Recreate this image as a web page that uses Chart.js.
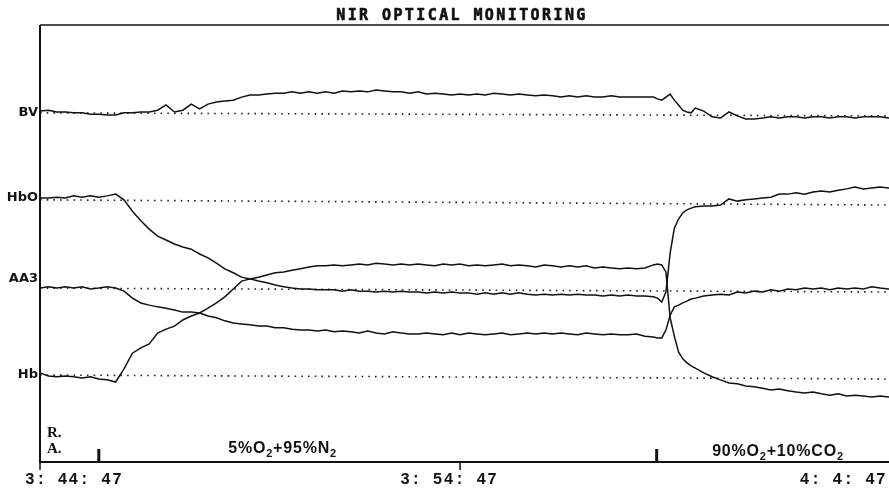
<!DOCTYPE html>
<html>
<head>
<meta charset="utf-8">
<title>NIR optical monitoring</title>
<script src="https://cdn.jsdelivr.net/npm/chart.js@4.4.1/dist/chart.umd.min.js"></script>
<style>
  html, body { margin: 0; padding: 0; background: #fff; }
  #wrap { width: 889px; height: 493px; position: relative; }
</style>
</head>
<body>
<div id="wrap"><canvas id="chart"></canvas></div>
<script>
// sample times, minutes after 3:44:47
const minutes = [
  0, 0.2, 0.4, 0.6, 0.8, 1, 1.2, 1.4, 1.6, 1.8,
  2, 2.2, 2.4, 2.6, 2.8, 3, 3.2, 3.4, 3.6, 3.8,
  4, 4.2, 4.4, 4.6, 4.8, 5, 5.2, 5.4, 5.6, 5.8,
  6, 6.2, 6.4, 6.6, 6.8, 7, 7.2, 7.4, 7.6, 7.8,
  8, 8.2, 8.4, 8.6, 8.8, 9, 9.2, 9.4, 9.6, 9.8,
  10, 10.2, 10.4, 10.6, 10.8, 11, 11.2, 11.4, 11.6, 11.8,
  12, 12.2, 12.4, 12.6, 12.8, 13, 13.2, 13.4, 13.6, 13.8,
  14, 14.2, 14.4, 14.6, 14.7, 14.8, 14.9, 15, 15.1, 15.2, 15.3, 15.4, 15.5, 15.6, 15.8,
  16, 16.2, 16.4, 16.6, 16.8, 17, 17.2, 17.4, 17.6, 17.8,
  18, 18.2, 18.4, 18.6, 18.8, 19, 19.2, 19.4, 19.6, 19.8,
  20, 20.2, 20.4
]

// recorder traces, arbitrary units (channels stacked 20 units apart)
const bv = [
  80.3, 80.5, 80.1, 80.1, 79.9, 79.9, 79.6, 79.6, 79.4, 79.4,
  79.9, 79.9, 80.1, 80.1, 80.5, 81.7, 80.1, 80.5, 81.9, 80.8,
  81.9, 82.4, 82.6, 82.8, 83.5, 84.0, 84.0, 84.2, 84.4, 84.4,
  84.7, 84.4, 84.7, 84.4, 84.7, 84.4, 84.9, 84.7, 84.9, 84.7,
  85.1, 84.9, 84.7, 84.7, 84.4, 84.7, 84.2, 84.4, 84.2, 84.0,
  84.2, 84.0, 84.2, 84.0, 84.4, 84.2, 84.0, 84.2, 84.0, 83.8,
  84.0, 83.8, 83.5, 83.8, 83.5, 83.8, 83.5, 83.5, 83.8, 83.5,
  83.5, 83.5, 83.5, 83.5, 83.1, 82.8, 83.5, 84.2, 82.8, 81.7, 80.5, 80.1, 79.9, 81.0, 80.3,
  79.0, 78.7, 80.1, 79.2, 78.5, 78.5, 78.7, 79.0, 78.7, 79.0,
  79.0, 78.7, 79.0, 79.0, 78.7, 79.0, 79.0, 78.7, 79.0, 79.0,
  79.0, 78.7, 78.7
]
const hbo = [
  60.4, 60.4, 60.6, 60.4, 60.9, 60.6, 60.9, 60.6, 60.9, 61.3,
  60.0, 57.4, 55.2, 53.3, 51.7, 50.8, 49.9, 49.2, 48.7, 47.6,
  46.7, 45.5, 44.2, 43.3, 42.3, 41.9, 41.4, 41.0, 40.5, 40.1,
  39.8, 39.6, 39.6, 39.4, 39.4, 39.4, 39.1, 39.4, 39.1, 39.1,
  38.9, 39.1, 38.9, 39.1, 38.9, 38.9, 38.7, 38.9, 38.7, 38.9,
  38.7, 38.7, 38.4, 38.7, 38.4, 38.7, 38.4, 38.7, 38.4, 38.2,
  38.4, 38.2, 38.4, 38.2, 38.4, 38.2, 38.2, 38.0, 38.2, 38.0,
  38.2, 38.0, 38.0, 37.8, 37.5, 36.6, 38.9, 47.8, 53.5, 55.6, 57.0, 57.7, 58.1, 58.4, 58.6,
  58.6, 58.8, 60.2, 59.7, 60.0, 60.2, 60.4, 60.6, 61.3, 61.3,
  61.6, 61.3, 61.8, 62.0, 61.8, 62.2, 62.5, 62.9, 62.5, 62.7,
  62.9, 62.7, 62.7
]
const aa3 = [
  39.8, 40.1, 39.8, 40.1, 39.8, 40.1, 39.6, 39.8, 40.1, 39.8,
  39.1, 37.5, 36.4, 35.9, 35.5, 35.2, 34.8, 34.3, 34.3, 34.1,
  33.4, 33.0, 32.3, 31.8, 31.6, 31.4, 31.1, 31.1, 30.7, 30.7,
  30.4, 30.2, 30.2, 30.0, 30.2, 29.8, 30.0, 29.8, 29.5, 30.0,
  29.5, 29.3, 29.8, 29.5, 29.3, 29.3, 29.5, 29.3, 29.1, 29.5,
  29.1, 29.5, 29.3, 29.1, 29.3, 29.5, 29.1, 29.3, 29.5, 29.3,
  29.5, 29.3, 29.5, 29.3, 29.1, 29.5, 29.3, 29.1, 29.3, 29.1,
  29.1, 29.3, 28.8, 28.6, 28.4, 28.4, 30.2, 33.6, 35.5, 35.9, 36.4, 36.8, 37.3, 37.5, 38.0,
  38.2, 38.4, 38.2, 38.9, 38.7, 39.1, 38.9, 39.4, 39.1, 39.6,
  39.4, 39.8, 39.6, 39.8, 39.4, 39.8, 39.6, 39.8, 39.6, 40.1,
  39.8, 39.6, 39.6
]
const hb = [
  20.4, 19.7, 19.5, 19.7, 19.5, 19.2, 19.5, 19.0, 18.8, 18.3,
  21.3, 24.9, 26.1, 27.0, 29.5, 30.4, 31.1, 32.5, 33.4, 34.1,
  35.2, 36.4, 37.8, 39.6, 41.4, 41.9, 42.3, 42.8, 43.3, 43.5,
  43.9, 44.2, 44.6, 44.9, 44.9, 45.1, 44.9, 45.1, 45.3, 45.1,
  45.5, 45.3, 45.1, 45.3, 45.1, 45.3, 45.1, 44.9, 45.3, 45.1,
  45.3, 44.9, 45.1, 44.9, 45.1, 45.3, 44.9, 45.1, 44.9, 44.6,
  45.1, 44.9, 44.6, 44.9, 44.6, 44.9, 44.4, 44.6, 44.4, 44.2,
  44.4, 44.2, 44.4, 45.1, 45.3, 45.1, 43.5, 33.0, 28.8, 25.2, 23.6, 22.7, 22.0, 21.5, 20.4,
  19.5, 18.8, 18.1, 17.9, 17.4, 17.2, 16.9, 16.5, 16.7, 16.3,
  16.0, 15.8, 16.0, 15.6, 15.3, 15.6, 15.1, 15.3, 15.1, 14.9,
  15.1, 14.9, 14.9
]

const traceNames = ['BV', 'HbO', 'AA3', 'Hb']
const labelLevels = [80, 60.4, 41.9, 20]
// dotted reference level of each channel at start and end of the record
const baselineStart = [79.9, 60.0, 39.8, 19.9]
const baselineEnd = [79.2, 58.8, 38.9, 19.0]

const timeTicks = [0, 10, 20]
const timeLabels = ['3: 44: 47', '3: 54: 47', '4: 4: 47']
const eventMinutes = [1.4, 14.68]
const gasLabels = [['5%O', '2', '+95%N', '2'], ['90%O', '2', '+10%CO', '2']]

const X_MAX = 20.21
const INK = '#111'

function series(values) {
  return minutes.map((t, i) => ({x: t, y: values[i]}))
}

const traces = [bv, hbo, aa3, hb].map((values, i) => ({
  label: traceNames[i],
  data: series(values),
  borderColor: INK,
  borderWidth: 1.5,
  pointRadius: 0,
  order: 0
}))

const baselines = traceNames.map((name, i) => ({
  label: name + ' base',
  data: [{x: 0, y: baselineStart[i]}, {x: X_MAX, y: baselineEnd[i]}],
  borderColor: '#222',
  borderWidth: 1.6,
  borderDash: [1.6, 5.1],
  pointRadius: 0,
  order: 1
}))

function drawChem(ctx, parts, x, y) {
  // even parts are normal text, odd parts subscripts
  ctx.letterSpacing = '0.8px'
  parts.forEach((p, i) => {
    let sub = i % 2 === 1
    ctx.font = sub ? 'bold 11px "Liberation Sans"' : 'bold 16px "Liberation Sans"'
    ctx.fillText(p, x, y + (sub ? 4 : 0))
    x += ctx.measureText(p).width
  })
  ctx.letterSpacing = '0px'
}

const frame = {
  id: 'frame',
  afterDraw(chart) {
    let {ctx, chartArea: a, scales: {x, y}} = chart
    ctx.save()
    ctx.strokeStyle = INK
    ctx.fillStyle = INK

    // top rule, left and bottom axes
    ctx.lineWidth = 1.5
    ctx.beginPath()
    ctx.moveTo(a.left, a.top)
    ctx.lineTo(a.right, a.top)
    ctx.stroke()
    ctx.lineWidth = 2
    ctx.beginPath()
    ctx.moveTo(a.left, a.top)
    ctx.lineTo(a.left, a.bottom)
    ctx.lineTo(a.right, a.bottom)
    ctx.stroke()

    // short time ticks under the axis
    ctx.lineWidth = 1.5
    ctx.beginPath()
    for (let t of timeTicks.slice(0, 2)) {
      let px = x.getPixelForValue(t)
      ctx.moveTo(px, a.bottom)
      ctx.lineTo(px, a.bottom + 8)
    }
    ctx.stroke()

    // gas change markers
    ctx.lineWidth = 3
    ctx.beginPath()
    for (let t of eventMinutes) {
      let px = x.getPixelForValue(t)
      ctx.moveTo(px, a.bottom)
      ctx.lineTo(px, a.bottom - 13)
    }
    ctx.stroke()

    // title, stroked lightly so it prints heavy
    ctx.font = 'bold 15px "DejaVu Sans Mono"'
    ctx.letterSpacing = '2.4px'
    ctx.textAlign = 'center'
    ctx.textBaseline = 'alphabetic'
    ctx.lineWidth = 0.6
    ctx.fillText('NIR OPTICAL MONITORING', 462, 20)
    ctx.strokeText('NIR OPTICAL MONITORING', 462, 20)

    // clock labels, second colon on the tick, kept inside the canvas
    ctx.font = 'bold 16px "Liberation Mono"'
    ctx.letterSpacing = '1.3px'
    ctx.textAlign = 'left'
    timeLabels.forEach((txt, i) => {
      let px = x.getPixelForValue(timeTicks[i])
      let cut = txt.lastIndexOf(':')
      let lead = ctx.measureText(txt.slice(0, cut)).width + ctx.measureText(':').width / 2
      let w = ctx.measureText(txt).width
      let left = Math.min(Math.max(px - lead, 25), 887 - w)
      ctx.fillText(txt, left, 484)
    })
    ctx.letterSpacing = '0px'

    // channel names
    ctx.font = 'bold 13px "DejaVu Sans"'
    ctx.textAlign = 'right'
    ctx.textBaseline = 'middle'
    traceNames.forEach((name, i) => {
      ctx.fillText(name, a.left - 2, y.getPixelForValue(labelLevels[i]))
    })

    // R. / A. and the gas mixtures
    ctx.textAlign = 'left'
    ctx.textBaseline = 'alphabetic'
    ctx.font = 'bold 15px "Liberation Serif"'
    ctx.fillText('R.', a.left + 7, 437)
    ctx.fillText('A.', a.left + 7, 453)
    drawChem(ctx, gasLabels[0], x.getPixelForValue(4.48), 453)
    drawChem(ctx, gasLabels[1], x.getPixelForValue(16.0), 456)

    ctx.restore()
  }
}

new Chart(document.getElementById('chart'), {
  type: 'line',
  data: {datasets: [...traces, ...baselines]},
  options: {
    responsive: true,
    maintainAspectRatio: false,
    animation: false,
    events: [],
    layout: {padding: {left: 40, top: 25, right: 0, bottom: 31}},
    plugins: {
      legend: {display: false},
      tooltip: {enabled: false},
      title: {display: false}
    },
    elements: {line: {tension: 0}, point: {radius: 0}},
    scales: {
      x: {type: 'linear', min: 0, max: X_MAX, display: false},
      y: {min: 0, max: 100, display: false}
    }
  },
  plugins: [frame]
})
</script>
</body>
</html>
